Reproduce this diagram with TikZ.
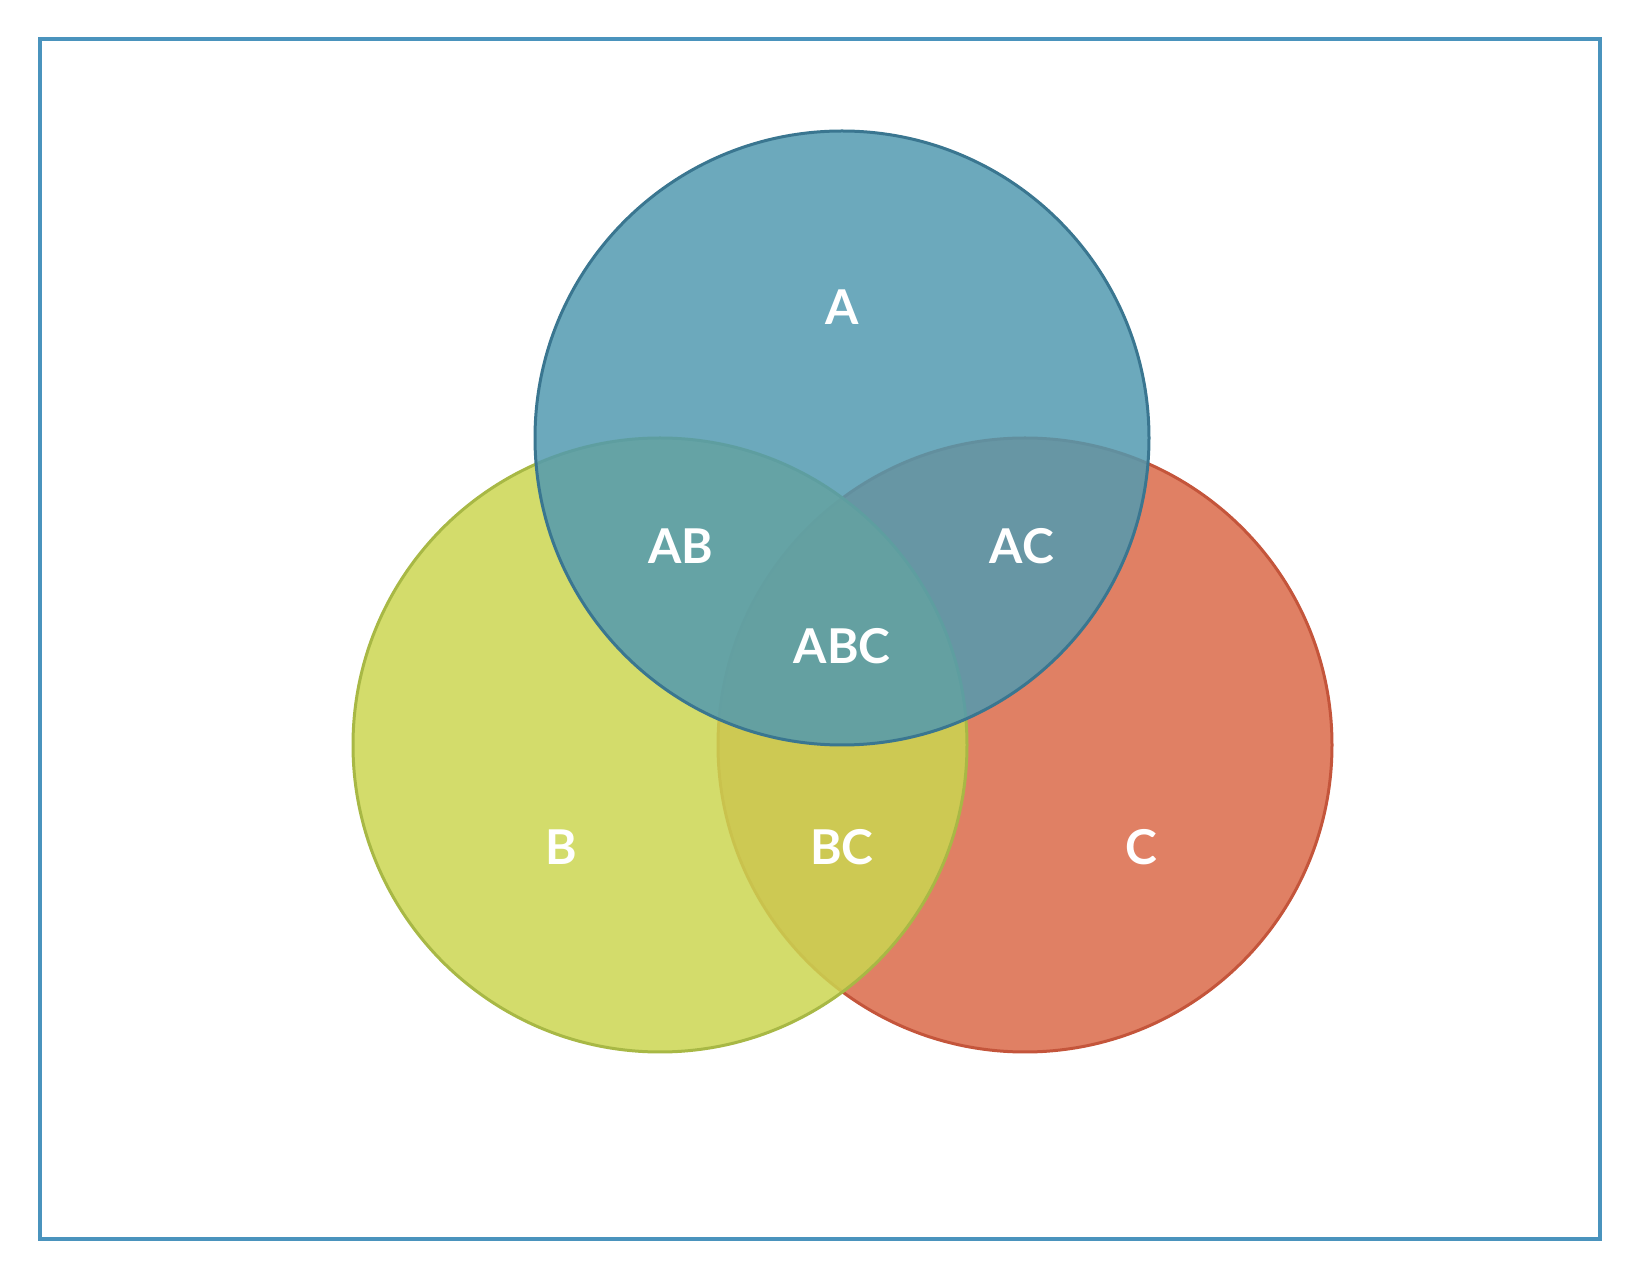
\documentclass[tikz,border=0pt]{standalone}
\usepackage{fontspec}
\setmainfont{Lato}
\usepackage{xcolor}
\usepackage{tikz}
\usetikzlibrary{positioning}
\definecolor{frameblue}{HTML}{4A93BD}
\definecolor{setAfill}{HTML}{529AB0}
\definecolor{setAdraw}{HTML}{3A7690}
\definecolor{setBfill}{HTML}{CBD651}
\definecolor{setBdraw}{HTML}{A8B845}
\definecolor{setCfill}{HTML}{DA6A49}
\definecolor{setCdraw}{HTML}{C4553B}
\tikzstyle{setcircle} = [circle, minimum size=307pt, inner sep=0pt, line width=1.5pt, fill opacity=0.85]
\tikzstyle{setlabel} = [text=white, font=\fontsize{24}{29}\selectfont\bfseries]

\begin{document}
\begin{tikzpicture}[x=0.5pt, y=-0.5pt]
    \useasboundingbox (0,0) rectangle (1630,1288);
    \draw [frameblue, line width=2pt] (40,39) rectangle (1600,1239);
    % the three sets
    \node (setC) [setcircle, fill=setCfill, draw=setCdraw] at (1025,745) {};
    \node (setB) [setcircle, fill=setBfill, draw=setBdraw] at (660,745) {};
    \node (setA) [setcircle, fill=setAfill, draw=setAdraw] at (842,438) {};
    % region labels
    \node (labA) [setlabel] at (842,307) {A};
    \node (labAB) [setlabel] at (681,546) {AB};
    \node (labAC) [setlabel] at (1022,546) {AC};
    \node (labABC) [setlabel] at (842,646) {ABC};
    \node (labB) [setlabel] at (561,847) {B};
    \node (labBC) [setlabel] at (842,847) {BC};
    \node (labC) [setlabel] at (1141,847) {C};
\end{tikzpicture}
\end{document}
